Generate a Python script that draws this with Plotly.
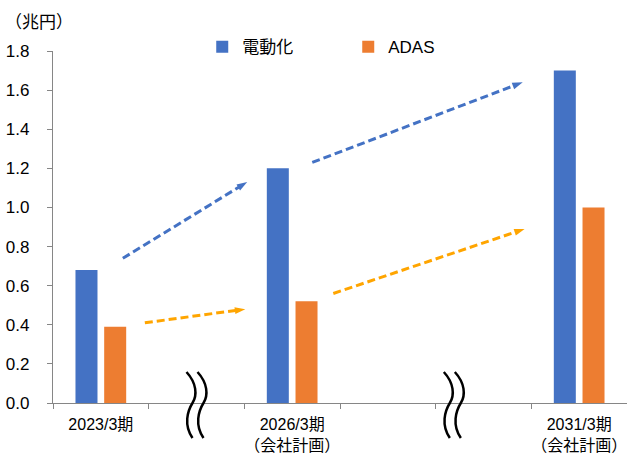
import plotly.graph_objects as go

# Fiscal periods shown on the x axis (blank slots mark skipped years)
periods = ["2023/3期", "", "2026/3期<br>（会社計画）", "", "", "2031/3期<br>（会社計画）"]
bar_periods = [0, 2, 5]

# Sales, trillion yen
electrification = [0.68, 1.20, 1.70]
adas = [0.39, 0.52, 1.00]

series_names = ["電動化", "ADAS"]
y_ticks = [0.0, 0.2, 0.4, 0.6, 0.8, 1.0, 1.2, 1.4, 1.6, 1.8]

# Dashed trend arrows: (x0, y0) -> (x1, y1) in axis units
blue_arrows = [((0.23, 0.74), (1.53, 1.13)), ((2.21, 1.23), (4.41, 1.64))]
orange_arrows = [((0.46, 0.41), (1.51, 0.48)), ((2.43, 0.56), (4.43, 0.89))]

# Axis-break marks, placed at these x positions (axis units)
break_positions = [1.0, 3.69]

BLUE = "#4472C4"
ORANGE = "#ED7D31"
ARROW_ORANGE = "#FFA500"
AXIS = "#868686"
FONT = "Liberation Sans, Arial, Noto Sans CJK JP, sans-serif"

fig = go.Figure()

fig.add_bar(x=bar_periods, y=electrification, name=series_names[0],
            marker=dict(color=BLUE, line=dict(width=0)),
            width=0.23, offset=-0.265, hoverinfo="skip")
fig.add_bar(x=bar_periods, y=adas, name=series_names[1],
            marker=dict(color=ORANGE, line=dict(width=0)),
            width=0.23, offset=0.035, hoverinfo="skip")


def add_arrow(p0, p1, color):
    fig.add_scatter(
        x=[p0[0], p1[0]], y=[p0[1], p1[1]], mode="lines+markers",
        line=dict(color=color, width=3, dash="8px,4px"),
        marker=dict(symbol="arrow", angleref="previous", size=11,
                    color=color, line=dict(width=0)),
        showlegend=False, hoverinfo="skip",
    )


for a, b in blue_arrows:
    add_arrow(a, b, BLUE)
for a, b in orange_arrows:
    add_arrow(a, b, ARROW_ORANGE)

# Wavy double-line break symbol, drawn in pixels around an anchor on the x axis
wave_left = "M -10,31 C 0,20 1,8 -4,0 C -9,-8 -13,-22 -4,-35"
wave_right = "M 1,31 C 11,20 12,8 7,0 C 2,-8 -2,-22 7,-35"
n_slots = len(periods)
for bx in break_positions:
    for p in (wave_left, wave_right):
        fig.add_shape(
            type="path", path=p, xref="paper", yref="paper",
            xsizemode="pixel", ysizemode="pixel",
            xanchor=(bx + 0.5) / n_slots, yanchor=0,
            line=dict(color="black", width=2.5),
        )

fig.add_annotation(text="（兆円）", xref="paper", yref="paper",
                   x=-0.087, y=1.082, xanchor="left", yanchor="middle",
                   showarrow=False, font=dict(size=17, color="black", family=FONT))

fig.update_layout(
    width=627, height=459,
    margin=dict(l=53, r=0, t=51, b=56),
    plot_bgcolor="white", paper_bgcolor="white",
    font=dict(family=FONT, size=17, color="black"),
    barmode="overlay",
    showlegend=True,
    legend=dict(orientation="h", x=0.26, y=1.011, xanchor="left", yanchor="middle",
                entrywidth=101, entrywidthmode="pixels",
                font=dict(size=17), bgcolor="rgba(0,0,0,0)"),
    xaxis=dict(
        range=[-0.5, n_slots - 0.5], showgrid=False, zeroline=False,
        showline=True, linecolor=AXIS, linewidth=1.3, automargin=False,
        tickmode="array", tickvals=list(range(n_slots)), ticktext=periods,
        ticks="", tickfont=dict(size=16), ticklabelstandoff=7,
        ticklabeloverflow="allow",
        minor=dict(tickmode="linear", tick0=-0.5, dtick=1, ticks="outside",
                   ticklen=5, tickcolor=AXIS, tickwidth=1, showgrid=False),
    ),
    yaxis=dict(
        range=[0, 1.8], showgrid=False, zeroline=False,
        showline=True, linecolor=AXIS, linewidth=1.3, automargin=False,
        tickmode="array", tickvals=y_ticks, tickformat=".1f",
        ticks="outside", ticklen=5, tickcolor=AXIS, tickwidth=1,
        tickfont=dict(size=17), ticklabelstandoff=14,
        ticklabeloverflow="allow",
    ),
)

fig.write_html("out.html")
